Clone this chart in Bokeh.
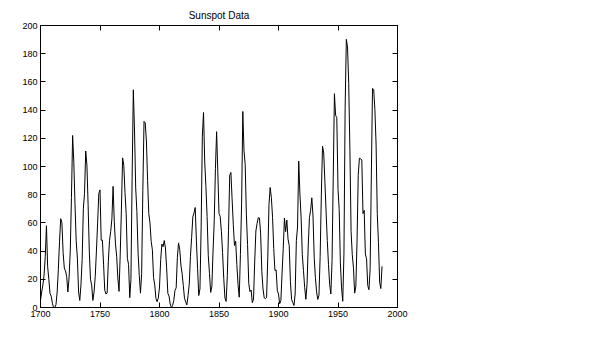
from bokeh.plotting import figure
from bokeh.models import LinearAxis, Range1d, FixedTicker
from bokeh.embed import file_html
from bokeh.resources import INLINE

years = list(range(1700, 1988))
sunspots = [
    5, 11, 16, 23, 36, 58, 29, 20, 10, 8,
    3, 0, 0, 2, 11, 27, 47, 63, 60, 39,
    28, 26, 22, 11, 21, 40, 78, 122, 103, 73,
    47, 35, 11, 5, 16, 34, 70, 81, 111, 101,
    73, 40, 20, 16, 5, 11, 22, 40, 60, 80.9,
    83.4, 47.7, 47.8, 30.7, 12.2, 9.6, 10.2, 32.4, 47.6, 54.0,
    62.9, 85.9, 61.2, 45.1, 36.4, 20.9, 11.4, 37.8, 69.8, 106.1,
    100.8, 81.6, 66.5, 34.8, 30.6, 7.0, 19.8, 92.5, 154.4, 125.9,
    84.8, 68.1, 38.5, 22.8, 10.2, 24.1, 82.9, 132.0, 130.9, 118.1,
    89.9, 66.6, 60.0, 46.9, 41.0, 21.3, 16.0, 6.4, 4.1, 6.8,
    14.5, 34.0, 45.0, 43.1, 47.5, 42.2, 28.1, 10.1, 8.1, 2.5,
    0.0, 1.4, 5.0, 12.2, 13.9, 35.4, 45.8, 41.1, 30.1, 23.9,
    15.6, 6.6, 4.0, 1.8, 8.5, 16.6, 36.3, 49.6, 64.2, 67.0,
    70.9, 47.8, 27.5, 8.5, 13.2, 56.9, 121.5, 138.3, 103.2, 85.7,
    64.6, 36.7, 24.2, 10.7, 15.0, 40.1, 61.5, 98.5, 124.7, 96.3,
    66.6, 64.5, 54.1, 39.0, 20.6, 6.7, 4.3, 22.7, 54.8, 93.8,
    95.8, 77.2, 59.1, 44.0, 47.0, 30.5, 16.3, 7.3, 37.6, 74.0,
    139.0, 111.2, 101.6, 66.2, 44.7, 17.0, 11.3, 12.4, 3.4, 6.0,
    32.3, 54.3, 59.7, 63.7, 63.5, 52.2, 25.4, 13.1, 6.8, 6.3,
    7.1, 35.6, 73.0, 85.1, 78.0, 64.0, 41.8, 26.2, 26.7, 12.1,
    9.5, 2.7, 5.0, 24.4, 42.0, 63.5, 53.8, 62.0, 48.5, 43.9,
    18.6, 5.7, 3.6, 1.4, 9.6, 47.4, 57.1, 103.9, 80.6, 63.6,
    37.6, 26.1, 14.2, 5.8, 16.7, 44.3, 63.9, 69.0, 77.8, 64.9,
    35.7, 21.2, 11.1, 5.7, 8.7, 36.1, 79.7, 114.4, 109.6, 88.8,
    67.8, 47.5, 30.6, 16.3, 9.6, 33.2, 92.6, 151.6, 136.3, 134.7,
    83.9, 69.4, 31.5, 13.9, 4.4, 38.0, 141.7, 190.2, 184.8, 159.0,
    112.3, 53.9, 37.5, 27.9, 10.2, 15.1, 47.0, 93.8, 105.9, 105.5,
    104.5, 66.6, 68.9, 38.0, 34.5, 15.5, 12.6, 27.5, 92.5, 155.4,
    154.6, 140.4, 115.9, 66.6, 45.9, 17.9, 13.4, 29.2,
]
x_ticks = [1700, 1750, 1800, 1850, 1900, 1950, 2000]
y_ticks = [0, 20, 40, 60, 80, 100, 120, 140, 160, 180, 200]
title_text = "Sunspot Data"

FONT = "Liberation Sans"

p = figure(width=594, height=340, output_backend="svg", toolbar_location=None,
           x_range=Range1d(1700, 2000), y_range=Range1d(0, 200),
           min_border_left=40, min_border_right=197, min_border_top=25,
           min_border_bottom=33, x_axis_location=None, y_axis_location=None,
           background_fill_color="white", border_fill_color="white")
p.grid.visible = False
p.outline_line_color = "black"
p.outline_line_width = 1

p.title.text = title_text
p.title.align = "center"
p.title.text_font = FONT
p.title.text_font_size = "10px"
p.title.text_font_style = "normal"
p.title.text_color = "black"
p.title.standoff = 10

def make_axis(ticks, labels):
    ax = LinearAxis(ticker=FixedTicker(ticks=ticks))
    ax.major_tick_in = 5
    ax.major_tick_out = 0
    ax.minor_tick_in = 0
    ax.minor_tick_out = 0
    ax.axis_line_color = "black"
    ax.major_tick_line_color = "black"
    ax.major_label_text_font = FONT
    ax.major_label_text_font_size = "9px"
    ax.major_label_text_color = "black"
    ax.major_label_standoff = 3
    if not labels:
        ax.major_label_text_font_size = "0px"
        ax.major_label_text_alpha = 0
        ax.major_label_standoff = 0
    return ax

p.add_layout(make_axis(x_ticks, True), "below")
p.add_layout(make_axis(y_ticks, True), "left")
p.add_layout(make_axis(x_ticks, False), "above")
p.add_layout(make_axis(y_ticks, False), "right")

p.line(years, sunspots, line_color="black", line_width=1)

open("out.html", "w").write(file_html(p, INLINE))
